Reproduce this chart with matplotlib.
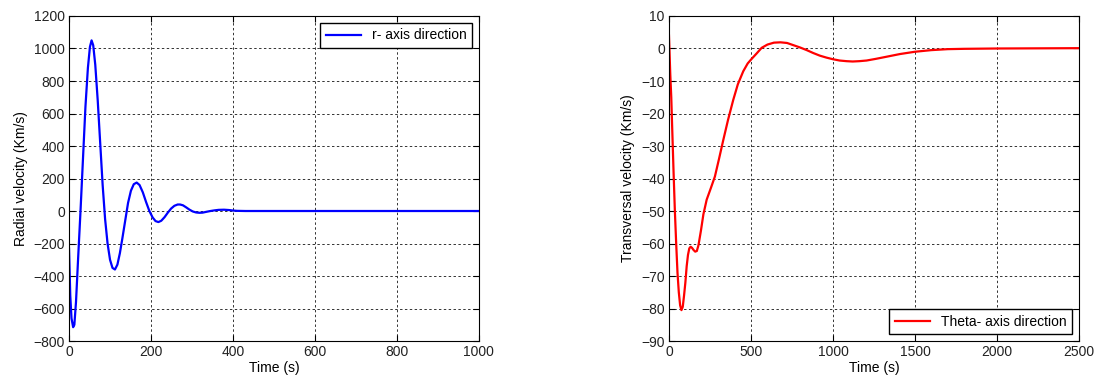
import matplotlib
matplotlib.use("Agg")
import matplotlib.pyplot as plt

plt.rcParams['font.family'] = ['Liberation Sans', 'DejaVu Sans']
plt.rcParams['font.size'] = 10

# radial velocity
t_r = [0, 3, 6, 10, 13, 17, 22, 28, 34, 40, 46, 51, 55, 59, 64, 70, 76, 82, 88, 94,
       100, 106, 112, 118, 124, 130, 137, 144, 151, 158, 165, 172, 180, 188, 196,
       204, 211, 218, 225, 233, 241, 249, 257, 265, 271, 278, 286, 294, 302, 310,
       318, 326, 335, 345, 355, 365, 378, 390, 400, 410, 430, 1000]
v_r = [-230, -520, -660, -715, -700, -560, -300, 0, 320, 640, 880, 1010, 1050, 1020,
       900, 680, 420, 160, -50, -200, -300, -350, -360, -330, -260, -170, -60, 50,
       125, 165, 175, 160, 115, 55, 0, -40, -62, -68, -60, -38, -10, 15, 32, 40, 40,
       35, 22, 8, -3, -9, -11, -10, -5, 0, 4, 7, 8, 6, 3, 1, 0, 0]

# transversal velocity
t_th = [0, 4, 8, 14, 20, 28, 36, 44, 52, 60, 68, 76, 84, 92, 100, 108, 116, 124, 132,
        140, 150, 160, 170, 180, 195, 210, 230, 255, 280, 305, 331, 360, 392, 420,
        453, 480, 504, 535, 565, 600, 640, 680, 720, 760, 800, 840, 880, 920, 960,
        1000, 1040, 1083, 1120, 1160, 1205, 1260, 1320, 1409, 1500, 1600, 1700,
        1800, 2000, 2500]
v_th = [4, -2, -8, -15, -25, -38, -50, -60, -69, -75, -79, -80.5, -79.5, -76, -72, -67,
        -63.5, -61.5, -61, -61.3, -62, -62.5, -62.3, -60.5, -56, -51, -46.5, -43,
        -39.4, -34, -28.2, -22, -15.8, -11, -7, -4.6, -3.2, -1.5, 0.2, 1.2, 1.8, 1.9,
        1.7, 1.0, 0.3, -0.5, -1.4, -2.2, -2.8, -3.3, -3.7, -3.9, -4.0, -3.9, -3.7,
        -3.2, -2.6, -1.7, -1.0, -0.5, -0.2, -0.1, 0, 0.1]

fig = plt.figure(figsize=(11.01, 3.8), dpi=100)
ax1 = fig.add_axes([0.0627, 0.1026, 0.3723, 0.8553])
ax2 = fig.add_axes([0.6076, 0.1026, 0.3724, 0.8553])

ax1.plot(t_r, v_r, color='b', lw=1.6, label='r- axis direction')
ax1.set_xlim(0, 1000)
ax1.set_ylim(-800, 1200)
ax1.set_xticks(range(0, 1001, 200))
ax1.set_yticks(range(-800, 1201, 200))
ax1.set_xlabel('Time (s)', labelpad=1)
ax1.set_ylabel('Radial velocity (Km/s)')
ax1.legend(loc='upper right', fancybox=False, edgecolor='k', framealpha=1,
           borderaxespad=0.5, handlelength=2.5)

ax2.plot(t_th, v_th, color='r', lw=1.6, label='Theta- axis direction')
ax2.set_xlim(0, 2500)
ax2.set_ylim(-90, 10)
ax2.set_xticks(range(0, 2501, 500))
ax2.set_yticks(range(-90, 11, 10))
ax2.set_xlabel('Time (s)', labelpad=1)
ax2.set_ylabel('Transversal velocity (Km/s)')
ax2.legend(loc='lower right', fancybox=False, edgecolor='k', framealpha=1,
           borderaxespad=0.5, handlelength=2.5)

for ax in (ax1, ax2):
    ax.grid(True, color='#333333', linestyle=(0, (2.5, 2.5)), linewidth=0.7)
    ax.tick_params(direction='in', top=True, right=True, length=4, pad=3,
                   labelcolor='#222222')
    for s in ax.spines.values():
        s.set_linewidth(0.8)

fig.savefig('out.png', dpi=100)
